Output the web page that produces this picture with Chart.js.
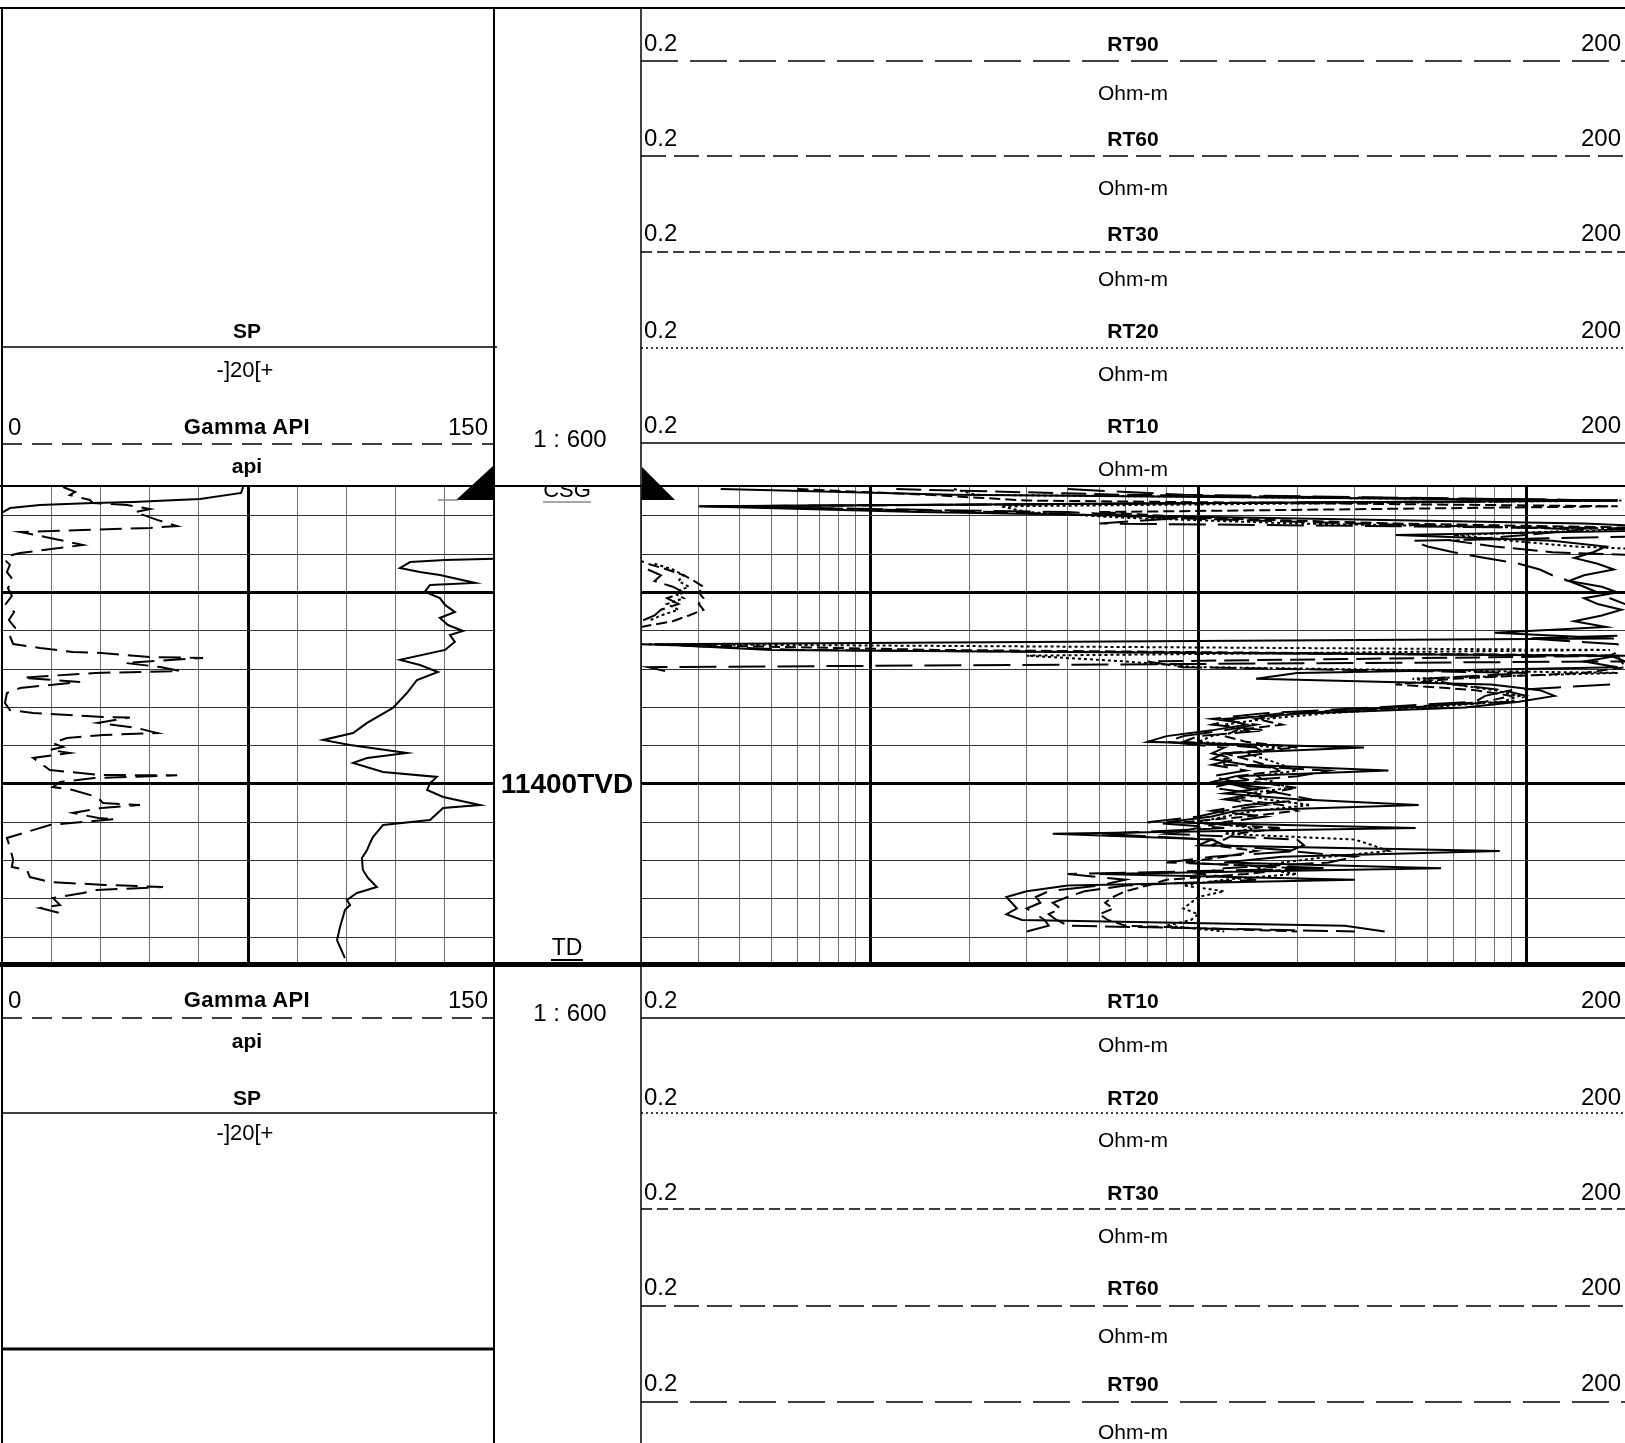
<!DOCTYPE html>
<html>
<head>
<meta charset="utf-8">
<title>Well log</title>
<script src="https://cdn.jsdelivr.net/npm/chart.js@4.4.1/dist/chart.umd.min.js"></script>
<style>
html,body{margin:0;padding:0;background:#fff;}
#page{position:relative;width:1625px;height:1443px;overflow:hidden;background:#fff;font-family:"Liberation Sans",Arial,Helvetica,sans-serif;color:#000;}
#page canvas{position:absolute;}
#ov{position:absolute;left:0;top:0;pointer-events:none;}
.t{position:absolute;white-space:nowrap;line-height:1;font-size:22px;}
.n{font-size:24px;}
.b{font-weight:bold;font-size:21px;}
.g{font-weight:bold;font-size:22px;letter-spacing:0.4px;}
.o{font-size:21px;}
.c{transform:translate(-50%,-50%);}
.l{transform:translate(0,-50%);}
.r{transform:translate(-100%,-50%);}
#csgbox{position:absolute;left:496px;top:487px;width:143px;height:16px;overflow:hidden;}
</style>
</head>
<body>
<div id="page">
  <canvas id="trk1" width="492" height="478" style="left:2px;top:486px;width:492px;height:478px"></canvas>
  <canvas id="trk2" width="984" height="478" style="left:641px;top:486px;width:984px;height:478px"></canvas>
  <svg id="ov" width="1625" height="1443" xmlns="http://www.w3.org/2000/svg">
    <g stroke="#000" fill="none">
      <line x1="0" y1="8" x2="1625" y2="8" stroke-width="2"/>
      <line x1="2" y1="8" x2="2" y2="1443" stroke-width="2"/>
      <line x1="494" y1="8" x2="494" y2="1443" stroke-width="2"/>
      <line x1="641" y1="8" x2="641" y2="1443" stroke-width="1.5"/>
      <line x1="2" y1="347" x2="497" y2="347" stroke-width="1.5"/>
      <line x1="2" y1="444" x2="494" y2="444" stroke-width="1.5" stroke-dasharray="20 10"/>
      <line x1="0" y1="486" x2="1625" y2="486" stroke-width="2"/>
      <line x1="641" y1="61" x2="1625" y2="61" stroke-width="1.5" stroke-dasharray="37 12"/>
      <line x1="641" y1="156" x2="1625" y2="156" stroke-width="1.5" stroke-dasharray="25 8"/>
      <line x1="641" y1="252" x2="1625" y2="252" stroke-width="1.5" stroke-dasharray="11 5"/>
      <line x1="641" y1="348" x2="1625" y2="348" stroke-width="1.5" stroke-dasharray="2 3"/>
      <line x1="641" y1="443" x2="1625" y2="443" stroke-width="1.5"/>
      <line x1="0" y1="964.5" x2="1625" y2="964.5" stroke-width="5"/>
      <line x1="2" y1="1018" x2="494" y2="1018" stroke-width="1.5" stroke-dasharray="20 10"/>
      <line x1="2" y1="1113" x2="497" y2="1113" stroke-width="1.5"/>
      <line x1="2" y1="1349" x2="494" y2="1349" stroke-width="3"/>
      <line x1="641" y1="1018" x2="1625" y2="1018" stroke-width="1.5"/>
      <line x1="641" y1="1113" x2="1625" y2="1113" stroke-width="1.5" stroke-dasharray="2 3"/>
      <line x1="641" y1="1209" x2="1625" y2="1209" stroke-width="1.5" stroke-dasharray="11 5"/>
      <line x1="641" y1="1306" x2="1625" y2="1306" stroke-width="1.5" stroke-dasharray="25 8"/>
      <line x1="641" y1="1402" x2="1625" y2="1402" stroke-width="1.5" stroke-dasharray="37 12"/>
      <polygon points="493,466 493,500 456,500" fill="#000" stroke="none"/>
      <polygon points="642,467 642,500 675,500" fill="#000" stroke="none"/>
      <line x1="438" y1="500" x2="458" y2="500" stroke="#888" stroke-width="1.5"/>
      <line x1="543" y1="502" x2="591" y2="502" stroke="#888" stroke-width="1.5"/>
      <line x1="551" y1="960" x2="583" y2="960" stroke-width="2"/>
    </g>
  </svg>

  <!-- top header, track 1 -->
  <div class="t b c" style="left:247px;top:330px">SP</div>
  <div class="t c" style="left:245px;top:370px">-]20[+</div>
  <div class="t n l" style="left:8px;top:427px">0</div>
  <div class="t g c" style="left:247px;top:427px">Gamma API</div>
  <div class="t n r" style="left:488px;top:427px">150</div>
  <div class="t b c" style="left:247px;top:465px">api</div>
  <div class="t n c" style="left:570px;top:439px">1 : 600</div>
  <!-- top header, track 2 -->
  <div class="t n l" style="left:644px;top:43px">0.2</div>
  <div class="t b c" style="left:1133px;top:43px">RT90</div>
  <div class="t n r" style="left:1621px;top:43px">200</div>
  <div class="t o c" style="left:1133px;top:92px">Ohm-m</div>
  <div class="t n l" style="left:644px;top:138px">0.2</div>
  <div class="t b c" style="left:1133px;top:138px">RT60</div>
  <div class="t n r" style="left:1621px;top:138px">200</div>
  <div class="t o c" style="left:1133px;top:187px">Ohm-m</div>
  <div class="t n l" style="left:644px;top:233px">0.2</div>
  <div class="t b c" style="left:1133px;top:233px">RT30</div>
  <div class="t n r" style="left:1621px;top:233px">200</div>
  <div class="t o c" style="left:1133px;top:278px">Ohm-m</div>
  <div class="t n l" style="left:644px;top:330px">0.2</div>
  <div class="t b c" style="left:1133px;top:330px">RT20</div>
  <div class="t n r" style="left:1621px;top:330px">200</div>
  <div class="t o c" style="left:1133px;top:373px">Ohm-m</div>
  <div class="t n l" style="left:644px;top:425px">0.2</div>
  <div class="t b c" style="left:1133px;top:425px">RT10</div>
  <div class="t n r" style="left:1621px;top:425px">200</div>
  <div class="t o c" style="left:1133px;top:468px">Ohm-m</div>

  <!-- depth track -->
  <div id="csgbox"><div class="t c" style="left:71px;top:3px">CSG</div></div>
  <div class="t c" style="left:567px;top:784px;font-weight:bold;font-size:28px">11400TVD</div>
  <div class="t c" style="left:567px;top:947px;font-size:23px">TD</div>

  <!-- bottom header, track 1 -->
  <div class="t n l" style="left:8px;top:1000px">0</div>
  <div class="t g c" style="left:247px;top:1000px">Gamma API</div>
  <div class="t n r" style="left:488px;top:1000px">150</div>
  <div class="t b c" style="left:247px;top:1040px">api</div>
  <div class="t b c" style="left:247px;top:1097px">SP</div>
  <div class="t c" style="left:245px;top:1133px">-]20[+</div>
  <div class="t n c" style="left:570px;top:1013px">1 : 600</div>
  <!-- bottom header, track 2 -->
  <div class="t n l" style="left:644px;top:1000px">0.2</div>
  <div class="t b c" style="left:1133px;top:1000px">RT10</div>
  <div class="t n r" style="left:1621px;top:1000px">200</div>
  <div class="t o c" style="left:1133px;top:1044px">Ohm-m</div>
  <div class="t n l" style="left:644px;top:1097px">0.2</div>
  <div class="t b c" style="left:1133px;top:1097px">RT20</div>
  <div class="t n r" style="left:1621px;top:1097px">200</div>
  <div class="t o c" style="left:1133px;top:1139px">Ohm-m</div>
  <div class="t n l" style="left:644px;top:1192px">0.2</div>
  <div class="t b c" style="left:1133px;top:1192px">RT30</div>
  <div class="t n r" style="left:1621px;top:1192px">200</div>
  <div class="t o c" style="left:1133px;top:1235px">Ohm-m</div>
  <div class="t n l" style="left:644px;top:1287px">0.2</div>
  <div class="t b c" style="left:1133px;top:1287px">RT60</div>
  <div class="t n r" style="left:1621px;top:1287px">200</div>
  <div class="t o c" style="left:1133px;top:1335px">Ohm-m</div>
  <div class="t n l" style="left:644px;top:1383px">0.2</div>
  <div class="t b c" style="left:1133px;top:1383px">RT90</div>
  <div class="t n r" style="left:1621px;top:1383px">200</div>
  <div class="t o c" style="left:1133px;top:1431px">Ohm-m</div>
</div>

<script>
// ---------- depth axis ----------
const DEPTH_TOP = 11244.4;
const DEPTH_BASE = 11494.0;
const DEPTH_TICKS = [11260, 11280, 11300, 11320, 11340, 11360, 11380, 11400, 11420, 11440, 11460, 11480];
const DEPTH_MAJOR = [11300, 11400];

// ---------- track 1 (Gamma API 0-150, SP 20 mV/div) ----------
const GR_TICKS = [0, 15, 30, 45, 60, 75, 90, 105, 120, 135, 150];
const GR_MAJOR = [75];
const SP_MIN = -100, SP_MAX = 100;

const GR_DEPTH = [11244.9, 11247.5, 11249.1, 11251.7, 11253.3, 11254.3, 11256.4, 11258.0, 11262.1, 11265.3,
  11266.3, 11267.4, 11268.4, 11271.5, 11275.2, 11279.4, 11280.9, 11283.0, 11285.6, 11289.3,
  11293.5, 11297.7, 11301.8, 11306.0, 11310.2, 11314.4, 11318.5, 11322.7, 11326.9, 11329.0,
  11331.1, 11331.6, 11333.7, 11334.2, 11336.3, 11336.8, 11338.9, 11341.0, 11342.0, 11344.1,
  11344.6, 11346.7, 11349.9, 11352.5, 11357.7, 11361.4, 11362.9, 11365.0, 11365.3, 11368.1,
  11370.8, 11373.4, 11374.4, 11376.0, 11378.6, 11380.7, 11382.2, 11383.8, 11386.4, 11392.7,
  11395.3, 11395.5, 11396.9, 11399.0, 11401.6, 11403.1, 11406.8, 11409.9, 11411.0, 11412.5,
  11415.1, 11417.8, 11418.3, 11419.8, 11421.4, 11428.2, 11432.9, 11439.7, 11443.3, 11444.9,
  11448.6, 11451.2, 11452.7, 11453.8, 11455.4, 11456.9, 11459.5, 11463.2, 11464.8, 11467.4, 11470.0];
const GR_API = [18.6, 22.3, 20.7, 26.8, 27.7, 38.1, 45.1, 40.5, 47.3, 53.4,
  45.1, 24.7, 5.5, 14.6, 24.7, 5.5, 1.8, 0.9, 2.4, 1.5,
  3.4, 1.8, 3.0, 1.2, 3.7, 2.1, 4.0, 2.4, 3.4, 11.6,
  21.6, 30.4, 45.1, 61.3, 42.1, 37.5, 48.2, 54.3, 28.6, 9.5,
  6.4, 23.8, 5.5, 1.5, 0.9, 2.4, 9.5, 30.7, 39.0, 29.2,
  41.2, 47.3, 31.0, 19.8, 15.5, 18.6, 14.6, 20.7, 9.5, 14.6,
  29.6, 53.4, 28.1, 17.7, 15.5, 21.6, 29.0, 30.8, 42.1, 30.3,
  21.6, 29.4, 34.5, 24.7, 14.6, 1.5, 2.4, 3.4, 3.0, 7.6,
  8.5, 14.6, 31.2, 49.1, 28.9, 24.7, 15.5, 17.7, 11.6, 17.7, 16.8];

const SP_DEPTH = [11244.9, 11248.0, 11251.2, 11252.7, 11253.3, 11254.3, 11255.9, 11258.0, 11260.1, 11270.0,
  11282.0, 11283.0, 11284.1, 11287.2, 11289.3, 11290.9, 11295.0, 11296.1, 11299.7, 11302.9,
  11306.5, 11310.2, 11313.3, 11317.0, 11320.1, 11322.2, 11325.8, 11330.0, 11335.2, 11337.9,
  11341.5, 11345.7, 11352.5, 11360.3, 11368.1, 11373.4, 11377.0, 11379.6, 11383.8, 11386.4,
  11389.0, 11393.7, 11396.3, 11399.5, 11403.1, 11406.8, 11411.0, 11412.5, 11418.8, 11421.4,
  11427.7, 11430.8, 11434.5, 11438.6, 11444.9, 11449.1, 11453.8, 11456.9, 11460.6, 11463.2,
  11465.8, 11469.5, 11474.7, 11481.5, 11490.9];
const SP_MV = [-2.0, -2.8, -19.5, -46.7, -63.0, -84.6, -96.7, -99.6, -104.9, null,
  110.6, 80.1, 65.9, 61.8, 69.9, 78.0, 92.3, 74.0, 71.9, 78.0,
  80.1, 84.1, 78.0, 81.3, 87.4, 82.1, 84.1, 80.1, 61.8, 69.9,
  77.2, 68.7, 64.6, 58.9, 48.4, 42.7, 30.5, 41.5, 64.6, 48.4,
  42.7, 54.9, 76.8, 74.0, 72.8, 79.3, 94.3, 79.3, 74.0, 54.9,
  50.8, 49.6, 48.4, 46.3, 46.7, 48.8, 52.4, 44.3, 40.2, 41.5,
  39.4, 38.6, 37.4, 36.2, 39.4];

// ---------- track 2 (resistivity 0.2-200 Ohm-m, log) ----------
const RES_MIN = 0.2, RES_MAX = 200;
const RES_TICKS = [0.2, 0.3, 0.4, 0.5, 0.6, 0.7, 0.8, 0.9, 1, 2, 3, 4, 5, 6, 7, 8, 9, 10,
  20, 30, 40, 50, 60, 70, 80, 90, 100, 200];
const RES_MAJOR = [1, 10, 100];

const RES_DEPTH = [11246, 11249, 11252, 11255, 11258, 11261, 11264, 11267, 11270, 11273,
  11276, 11279, 11282, 11285, 11288, 11291, 11294, 11297, 11300, 11303,
  11306, 11309, 11312, 11315, 11318, 11321, 11324, 11327, 11330, 11333,
  11336, 11339, 11342, 11345, 11348, 11351, 11354, 11357, 11360, 11363,
  11366, 11369, 11372, 11375, 11378, 11381, 11384, 11387, 11390, 11393,
  11396, 11399, 11402, 11405, 11408, 11411, 11414, 11417, 11420, 11423,
  11426, 11429, 11432, 11435, 11438, 11441, 11444, 11447, 11450, 11453,
  11456, 11459, 11462, 11465, 11468, 11471, 11474, 11477];
const RT10 = [0.35, 1.8, 190, 0.3, 1.4, 15, 150, 400, 40, 120,
  175, 160, 140, 165, 185, 150, 135, 170, 190, 150,
  165, 195, 170, 140, 175, 80, 185, 0.22, 0.5, 190,
  150, 190, 20, 15, 78, 110, 122, 95, 65, 22,
  12, 14, 11, 8, 7, 32, 12, 11, 14, 38,
  13, 11, 16, 12, 20, 47, 13, 11, 8, 46,
  3.6, 11, 10, 83, 18, 12, 55, 5, 30, 4,
  3, 2.6, 2.7, 2.8, 2.6, 2.9, 28, 37];
const RT20 = [1.8, 2.1, 195, 2.5, 3, 6, 20, 200, 60, 90,
  140, 400, null, 0.22, 0.25, 0.27, 0.26, 0.28, 0.25, 0.27,
  0.24, 0.26, 0.23, 0.21, null, null, null, 0.22, 180, 3,
  6, 10, 190, 45, 60, 80, 95, 85, 50, 25,
  16, 12, 14, 11, 10, 18, 14, 16, 18, 20,
  15, 17, 19, 14, 16, 22, 15, 12, 10, 15,
  12, 30, 34, 38, 25, 18, 15, 20, 12, 9,
  12, 10, 9.5, 9, 10, 9.5, 8, 12];
const RT30 = [0.6, 1.5, 3, 190, 5, 10, 40, 400, null, null,
  null, null, 0.19, 0.21, 0.24, 0.27, 0.29, 0.31, 0.3, 0.31,
  0.3, 0.31, 0.28, 0.25, 0.2, 0.18, null, 0.2, 1.6, 190,
  195, 200, 150, 60, 40, 70, 90, 75, 45, 20,
  15, 18, 13, 12, 14, 20, 12, 14, 16, 18,
  13, 15, 20, 16, 13, 18, 20, 14, 9, 18,
  13, 12, 11, 15, 12, 9, 20, 14, 8, 7,
  6, 5.5, 5.2, 5.5, 5.0, 5.3, 6, 20];
const RT60 = [1.2, 6, 190, 0.35, 2.5, 8, 30, 150, 100, 60,
  80, 120, 400, null, 0.21, 0.23, 0.22, 0.25, 0.27, 0.24,
  0.26, 0.23, 0.22, 0.2, null, null, null, 0.21, 0.6, 200,
  7, 9, 100, 50, 60, 85, 100, 90, 40, 18,
  13, 11, 16, 10, 9, 15, 16, 12, 12, 25,
  20, 12, 14, 18, 22, 14, 11, 16, 12, 10,
  8, 20, 21, 19, 30, 25, 12, 10, 15, 6,
  4.5, 4, 3.6, 3.8, 3.5, 3.7, 4, 30];
const RT90 = [4, 9, 190, 0.3, 4, 9, 5, 400, 400, 45,
  50, 60, 75, 95, 110, 120, 135, 150, 165, 180,
  200, 400, 400, 400, 400, 400, 100, 190, 195, 180,
  200, 0.21, 0.25, null, 180, 90, 75, 70, 35, 16,
  11, 15, 12, 9, 8, 12, 11, 13, 11, 14,
  11, 13, 11, 15, 12, 16, 12, 10, 7, 12,
  5, 11, 12, 20, 11, 8, 25, 4, 6, 5,
  3.5, 3.2, 3.3, 3.0, 3.2, 3.4, 3.5, 3];

// ---------- helpers ----------
function pts(xs, ys) { return xs.map((v, i) => ({ x: v, y: ys[i] })); }
function isMajor(c, list) { return !!(c.tick && list.some(v => Math.abs(v - c.tick.value) < 1e-6)); }
function depthScale() {
  return {
    type: 'linear', reverse: true, min: DEPTH_TOP, max: DEPTH_BASE, display: true,
    ticks: { display: false }, border: { display: false },
    grid: { drawTicks: false, color: c => isMajor(c, DEPTH_MAJOR) ? '#000' : '#333',
            lineWidth: c => isMajor(c, DEPTH_MAJOR) ? 3 : 1 },
    afterBuildTicks: s => { s.ticks = DEPTH_TICKS.map(v => ({ value: v })); }
  };
}
function curve(label, data, dash, axis) {
  return { label, data, xAxisID: axis, showLine: true, borderColor: '#000', backgroundColor: '#000',
           borderWidth: 2, borderDash: dash, pointRadius: 0, pointHoverRadius: 0, tension: 0, spanGaps: false };
}
const baseOpts = {
  responsive: false, animation: false, events: [],
  devicePixelRatio: window.devicePixelRatio || 1,
  layout: { padding: 0 },
  plugins: { legend: { display: false }, tooltip: { enabled: false } }
};

// ---------- track 1 chart ----------
new Chart(document.getElementById('trk1'), {
  type: 'scatter',
  data: { datasets: [
    curve('SP', pts(SP_MV, SP_DEPTH), [], 'xsp'),
    curve('Gamma API', pts(GR_API, GR_DEPTH), [22, 9], 'x')
  ]},
  options: Object.assign({}, baseOpts, {
    scales: {
      x: { type: 'linear', min: 0, max: 150, display: true,
           ticks: { display: false }, border: { display: false },
           grid: { drawTicks: false, color: c => isMajor(c, GR_MAJOR) ? '#000' : '#707070',
                   lineWidth: c => isMajor(c, GR_MAJOR) ? 3 : 1 },
           afterBuildTicks: s => { s.ticks = GR_TICKS.map(v => ({ value: v })); } },
      xsp: { type: 'linear', axis: 'x', position: 'top', min: SP_MIN, max: SP_MAX, display: false },
      y: depthScale()
    }
  })
});

// ---------- track 2 chart ----------
new Chart(document.getElementById('trk2'), {
  type: 'scatter',
  data: { datasets: [
    curve('RT10', pts(RT10, RES_DEPTH), [], 'x'),
    curve('RT20', pts(RT20, RES_DEPTH), [3, 3], 'x'),
    curve('RT30', pts(RT30, RES_DEPTH), [11, 5], 'x'),
    curve('RT60', pts(RT60, RES_DEPTH), [25, 8], 'x'),
    curve('RT90', pts(RT90, RES_DEPTH), [37, 12], 'x')
  ]},
  options: Object.assign({}, baseOpts, {
    scales: {
      x: { type: 'logarithmic', min: RES_MIN, max: RES_MAX, display: true,
           ticks: { display: false }, border: { display: false },
           grid: { drawTicks: false, color: c => isMajor(c, RES_MAJOR) ? '#000' : '#707070',
                   lineWidth: c => isMajor(c, RES_MAJOR) ? 3 : 1 },
           afterBuildTicks: s => { s.ticks = RES_TICKS.map(v => ({ value: v })); } },
      y: depthScale()
    }
  })
});
</script>
</body>
</html>
